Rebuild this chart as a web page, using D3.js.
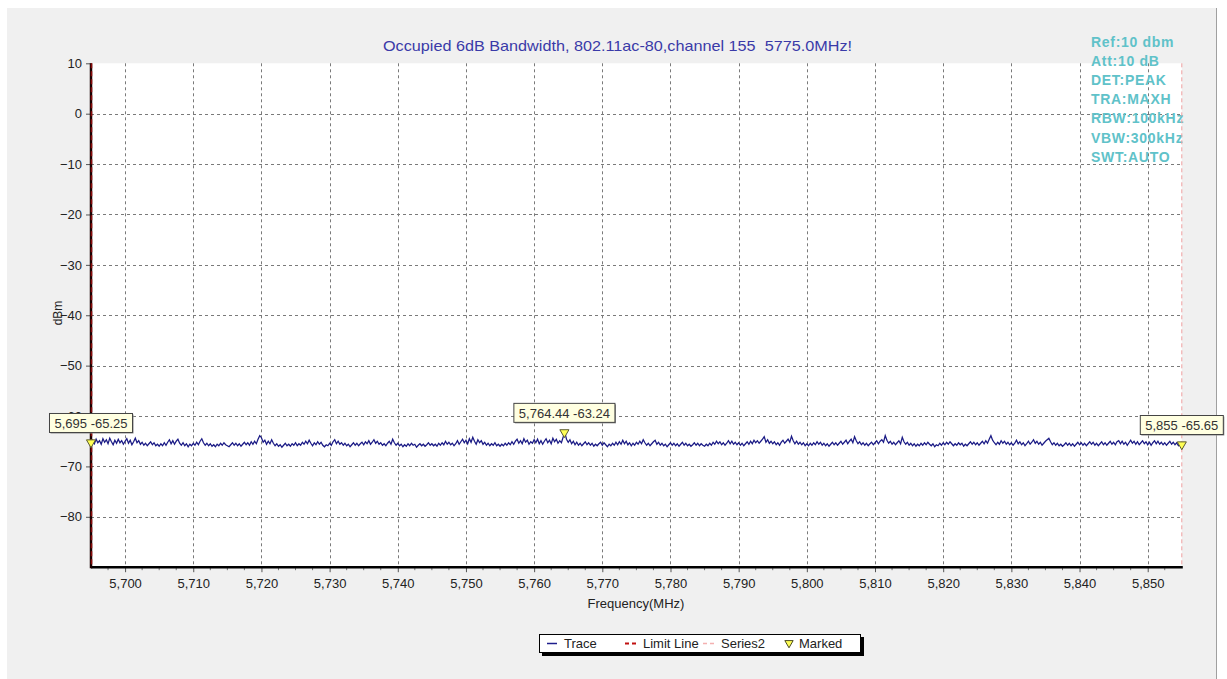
<!DOCTYPE html>
<html><head><meta charset="utf-8">
<script src="https://cdn.jsdelivr.net/npm/d3@7"></script>
<style>
body{margin:0;background:#fff;}
svg{display:block;font-family:"Liberation Sans",Arial,sans-serif;}
</style>
</head><body>
<svg id="c" width="1227" height="679"></svg>
<script>
// ---- data ----
const titleText = "Occupied 6dB Bandwidth, 802.11ac-80,channel 155  5775.0MHz!";
const freqStart = 5695, freqEnd = 5855;
const traceValues = [
-65.25,-64.8,-65.5,-64.6,-65.3,-64.9,-65.6,-64.5,-65.2,-64.7,-65.5,-64.4,-65.1,-65.7,-64.8,-65.4,-64.6,-65.3,-64.9,-65.6,
-65.0,-64.5,-65.4,-64.8,-65.7,-65.1,-64.4,-65.3,-64.9,-65.6,-65.2,-65.8,-65.4,-65.9,-65.5,-65.1,-65.7,-65.3,-65.9,-65.6,
-66.0,-65.5,-65.9,-65.3,-65.8,-65.2,-64.7,-65.5,-64.9,-65.6,-65.0,-64.6,-65.4,-65.8,-65.3,-65.9,-65.5,-66.1,-65.6,-65.9,
-65.4,-65.8,-65.2,-65.7,-65.0,-64.5,-65.3,-65.8,-65.4,-65.9,-65.5,-66.0,-65.7,-66.1,-65.6,-65.9,-65.4,-65.8,-65.3,-65.7,
-65.9,-66.1,-65.7,-65.3,-65.8,-65.4,-65.9,-65.5,-66.0,-65.6,-65.2,-65.7,-65.3,-65.8,-65.1,-65.6,-65.0,-65.5,-64.6,-63.9,
-64.3,-65.2,-64.8,-65.6,-65.0,-65.5,-64.7,-65.4,-65.9,-65.5,-66.0,-65.7,-66.2,-65.8,-65.4,-65.9,-65.6,-66.0,-65.5,-65.8,
-65.3,-65.9,-65.5,-65.8,-65.2,-65.6,-65.0,-65.5,-64.8,-65.4,-65.9,-65.3,-65.7,-65.1,-65.6,-65.2,-65.8,-66.1,-65.7,-65.9,
-65.4,-65.8,-65.1,-64.7,-65.5,-65.0,-65.6,-65.3,-65.8,-65.4,-65.9,-65.6,-66.1,-65.7,-65.3,-65.8,-65.4,-65.9,-65.5,-65.2,
-65.7,-65.1,-65.5,-64.9,-65.6,-65.2,-64.7,-65.4,-65.0,-65.6,-65.3,-65.8,-65.5,-65.9,-65.4,-65.0,-65.6,-64.6,-65.3,-65.8,
-65.4,-65.9,-65.6,-66.1,-65.7,-66.0,-65.5,-65.9,-65.4,-65.8,-65.6,-66.2,-65.8,-65.5,-65.9,-65.6,-66.0,-65.7,-65.3,-65.8,
-65.5,-65.9,-65.6,-66.0,-65.4,-65.8,-65.3,-65.7,-65.0,-65.6,-65.2,-65.7,-65.4,-65.9,-65.5,-64.9,-65.6,-65.1,-64.6,-65.3,
-64.8,-65.5,-64.5,-65.2,-64.2,-65.0,-65.6,-64.7,-65.3,-64.9,-65.6,-65.2,-65.8,-65.4,-65.9,-65.5,-65.8,-65.3,-65.9,-65.6,
-66.0,-65.6,-65.9,-65.4,-65.8,-65.3,-65.7,-65.1,-65.6,-65.0,-64.6,-65.4,-64.9,-65.5,-64.5,-65.2,-64.8,-65.6,-65.1,-65.4,
-64.7,-65.3,-64.6,-65.5,-64.9,-65.6,-65.0,-64.5,-65.3,-64.8,-65.5,-64.4,-65.1,-64.6,-65.4,-64.9,-65.3,-64.2,-63.3,-64.6,
-65.2,-64.7,-65.5,-65.0,-65.7,-65.2,-65.8,-65.4,-65.9,-65.5,-65.1,-65.7,-65.3,-65.8,-65.4,-66.0,-65.6,-65.9,-65.5,-65.2,
-65.8,-65.3,-65.7,-66.1,-65.6,-65.9,-65.4,-65.8,-65.2,-65.7,-65.1,-65.6,-64.8,-65.5,-65.0,-65.7,-65.3,-65.9,-65.4,-65.8,
-65.2,-65.6,-65.0,-65.5,-64.7,-65.3,-65.8,-65.4,-65.9,-65.5,-65.1,-64.8,-65.6,-65.2,-65.8,-65.4,-65.9,-65.6,-66.1,-65.7,
-65.3,-65.8,-65.4,-65.9,-65.5,-66.0,-65.6,-65.2,-65.8,-65.4,-65.9,-65.6,-66.0,-65.7,-65.3,-65.8,-65.4,-65.9,-65.5,-65.8,
-66.0,-65.6,-65.9,-65.4,-65.8,-65.2,-65.6,-65.0,-65.5,-65.1,-65.7,-65.3,-65.8,-65.4,-64.9,-65.5,-65.0,-65.6,-65.2,-65.7,
-65.3,-65.8,-65.4,-65.9,-65.5,-65.1,-65.6,-65.0,-65.5,-64.8,-65.3,-64.9,-65.4,-65.0,-64.6,-64.1,-65.2,-64.7,-65.4,-65.0,
-65.5,-65.1,-65.7,-65.3,-65.8,-65.2,-64.8,-65.4,-65.0,-64.6,-65.2,-64.0,-64.9,-65.5,-65.0,-65.6,-65.2,-65.7,-65.3,-65.9,
-65.5,-65.9,-65.4,-65.8,-65.3,-65.7,-65.1,-65.6,-65.2,-65.8,-65.4,-65.9,-65.5,-66.0,-65.6,-65.2,-65.7,-65.3,-65.8,-65.4,
-65.0,-65.6,-65.2,-64.8,-65.5,-65.0,-64.6,-65.3,-64.1,-64.9,-65.5,-65.1,-65.7,-65.3,-65.8,-65.4,-65.9,-65.5,-65.2,-65.7,
-65.3,-64.9,-65.5,-65.0,-64.7,-65.2,-63.9,-64.8,-65.4,-65.0,-65.6,-65.2,-65.7,-65.3,-64.9,-65.5,-64.2,-65.1,-65.6,-65.2,
-65.8,-65.4,-65.9,-65.5,-66.0,-65.6,-65.9,-65.4,-65.8,-65.3,-65.7,-65.2,-65.6,-65.9,-65.5,-66.1,-65.7,-65.9,-65.4,-65.8,
-65.3,-65.7,-65.2,-65.6,-65.1,-65.5,-65.9,-65.5,-65.8,-65.3,-65.7,-65.4,-66.0,-65.6,-65.9,-65.5,-65.1,-65.6,-65.2,-65.7,
-65.3,-65.8,-65.4,-65.0,-65.5,-64.9,-65.4,-64.6,-63.9,-64.8,-65.3,-65.7,-65.2,-65.6,-64.9,-65.4,-65.0,-65.6,-65.2,-65.7,
-65.3,-65.8,-65.4,-64.8,-65.5,-65.1,-65.7,-65.3,-65.9,-65.5,-65.0,-65.6,-65.2,-64.7,-65.4,-65.0,-65.6,-65.2,-65.8,-65.4,
-65.0,-64.7,-64.4,-65.1,-65.7,-65.3,-65.8,-65.4,-65.9,-65.6,-66.0,-65.7,-65.3,-65.8,-65.4,-65.9,-65.5,-66.0,-65.6,-65.2,
-65.7,-65.3,-65.8,-65.4,-65.9,-65.5,-65.1,-65.6,-65.2,-65.8,-65.4,-65.9,-65.5,-65.1,-65.7,-65.3,-65.8,-65.4,-65.0,-65.6,
-65.2,-65.7,-65.1,-64.9,-65.5,-65.0,-65.6,-65.2,-65.8,-65.3,-64.8,-65.4,-65.0,-65.6,-65.1,-65.7,-65.3,-64.9,-65.5,-65.1,
-65.7,-65.2,-65.8,-65.3,-64.9,-65.5,-65.0,-65.6,-65.2,-65.7,-65.3,-65.8,-65.4,-65.0,-65.6,-65.2,-65.7,-65.3,-65.9,-65.5,
-65.65
];
const xDomain = [5695, 5855];
const yDomain = [-90, 10];
const xTicks = [5700,5710,5720,5730,5740,5750,5760,5770,5780,5790,5800,5810,5820,5830,5840,5850];
const xMinorTicks = [5697.5,5702.5,5705,5707.5,5712.5,5715,5717.5,5722.5,5725,5727.5,5732.5,5735,5737.5,5742.5,5745,5747.5,5752.5,5755,5757.5,5762.5,5765,5767.5,5772.5,5775,5777.5,5782.5,5785,5787.5,5792.5,5795,5797.5,5802.5,5805,5807.5,5812.5,5815,5817.5,5822.5,5825,5827.5,5832.5,5835,5837.5,5842.5,5845,5847.5,5852.5];
const yTicks = [10,0,-10,-20,-30,-40,-50,-60,-70,-80];
const yGrid = [0,-10,-20,-30,-40,-50,-60,-70,-80];
const markerFreqs = [5695, 5764.44, 5855];
const markerValues = [-65.25, -63.24, -65.65];
const markerLabels = ["5,695 -65.25", "5,764.44 -63.24", "5,855 -65.65"];
const limitLineFreq = 5695;
const series2Freq = 5855;
const infoLines = ["Ref:10 dbm","Att:10 dB","DET:PEAK","TRA:MAXH","RBW:100kHz","VBW:300kHz","SWT:AUTO"];
const legendNames = ["Trace","Limit Line","Series2","Marked"];
const xTitle = "Frequency(MHz)";
const yTitle = "dBm";

// ---- drawing ----
const svg = d3.select("#c");
const L = 91, R = 1181.8, T = 63.3, B = 567.2;
const x = d3.scaleLinear().domain(xDomain).range([L, R]);
const y = d3.scaleLinear().domain(yDomain).range([B, T]);
const freqStep = (freqEnd - freqStart) / (traceValues.length - 1);

// panel
svg.append("rect").attr("x",7).attr("y",8).attr("width",1209).attr("height",671).attr("fill","#f0f0f0");
svg.append("line").attr("x1",1216.5).attr("x2",1216.5).attr("y1",8).attr("y2",679).attr("stroke","#a0a0a0");

// plot area
svg.append("rect").attr("x",L).attr("y",T).attr("width",R-L).attr("height",B-T).attr("fill","#fff");

// grid
const grid = svg.append("g").attr("stroke","#7a7a7a").attr("stroke-width",1).attr("stroke-dasharray","3,3");
grid.selectAll("line.v").data(xTicks).join("line")
  .attr("x1",d=>Math.round(x(d))+0.5).attr("x2",d=>Math.round(x(d))+0.5).attr("y1",T).attr("y2",B);
grid.selectAll("line.h").data(yGrid).join("line")
  .attr("y1",d=>Math.round(y(d))+0.5).attr("y2",d=>Math.round(y(d))+0.5).attr("x1",L).attr("x2",R);

// title
svg.append("text").attr("x",383).attr("y",50.5)
  .attr("font-size",15).attr("fill","#3a3aa8").style("white-space","pre")
  .attr("textLength",469).attr("lengthAdjust","spacingAndGlyphs").text(titleText);

// info lines
svg.append("g").selectAll("text").data(infoLines).join("text")
  .attr("x",1091).attr("y",(d,i)=>47+i*19.1)
  .attr("font-size",14).attr("font-weight","bold").attr("letter-spacing","0.7px")
  .attr("fill","#60c2c9").text(d=>d);

// x axis
const xAxis = d3.axisBottom(x).tickValues(xTicks).tickFormat(d3.format(",")).tickSize(5).tickPadding(7).tickSizeOuter(0);
const gx = svg.append("g").attr("transform",`translate(0,${B})`).call(xAxis);
gx.select(".domain").remove();
gx.selectAll("text").attr("font-size",13).attr("fill","#222").attr("font-family","Liberation Sans, Arial, sans-serif");
gx.selectAll(".tick line").attr("stroke","#555");
svg.append("g").selectAll("line").data(xMinorTicks).join("line")
  .attr("x1",d=>x(d)).attr("x2",d=>x(d)).attr("y1",B).attr("y2",B+3).attr("stroke","#777");

// y axis
const yAxis = d3.axisLeft(y).tickValues(yTicks).tickSize(5).tickPadding(4).tickSizeOuter(0);
const gy = svg.append("g").attr("transform",`translate(${L},0)`).call(yAxis);
gy.select(".domain").remove();
gy.selectAll("text").attr("font-size",13).attr("fill","#222").attr("font-family","Liberation Sans, Arial, sans-serif");
gy.selectAll(".tick line").attr("stroke","#555");

// axis titles
svg.append("text").attr("x",636).attr("y",608).attr("text-anchor","middle").attr("font-size",13).attr("fill","#222").text(xTitle);
svg.append("text").attr("transform","translate(62,313) rotate(-90)").attr("text-anchor","middle").attr("font-size",12).attr("fill","#222").text(yTitle);

// series2 (right dashed pink)
svg.append("line").attr("x1",x(series2Freq)).attr("x2",x(series2Freq)).attr("y1",T).attr("y2",B)
  .attr("stroke","#f0a0a0").attr("stroke-width",1).attr("stroke-dasharray","4,3");

// trace
const line = d3.line().x((d,i)=>x(freqStart+i*freqStep)).y(d=>y(d));
svg.append("path").datum(traceValues).attr("d",line).attr("fill","none")
  .attr("stroke","#1a1a85").attr("stroke-width",1.25);

// axis lines
svg.append("line").attr("x1",L).attr("x2",R+1).attr("y1",B).attr("y2",B).attr("stroke","#000").attr("stroke-width",2.5);
svg.append("line").attr("x1",L).attr("x2",L).attr("y1",T).attr("y2",B+1).attr("stroke","#1a0000").attr("stroke-width",2.5);
// limit line (dark red dashed)
svg.append("line").attr("x1",x(limitLineFreq)+0.5).attr("x2",x(limitLineFreq)+0.5).attr("y1",T).attr("y2",B)
  .attr("stroke","#8b0a0a").attr("stroke-width",1.5).attr("stroke-dasharray","5,3");

// markers
const tri = d3.symbol().type(d3.symbolTriangle).size(36);
const mk = svg.append("g");
markerFreqs.forEach((f,i)=>{
  const mx = x(f), my = y(markerValues[i]);
  mk.append("path").attr("d",tri()).attr("transform",`translate(${mx},${my}) rotate(180)`)
    .attr("fill","#ffff55").attr("stroke","#5a5a30").attr("stroke-width",1);
});
markerFreqs.forEach((f,i)=>{
  const mx = x(f), my = y(markerValues[i]);
  const g = mk.append("g");
  const t = g.append("text").attr("font-size",13).attr("fill","#333").text(markerLabels[i]);
  const w = t.node().getComputedTextLength();
  const bw = w + 10, bh = 19, bx = mx - bw/2, by = my - 10 - bh;
  g.insert("rect","text").attr("x",bx+1).attr("y",by+1).attr("width",bw).attr("height",bh).attr("fill","#888");
  g.insert("rect","text").attr("x",bx).attr("y",by).attr("width",bw).attr("height",bh)
    .attr("fill","#ffffe1").attr("stroke","#444").attr("stroke-width",1);
  t.attr("x",bx+5).attr("y",by+14.5);
});

// legend
const lg = svg.append("g");
lg.append("rect").attr("x",542).attr("y",637).attr("width",322).attr("height",19).attr("fill","#000");
lg.append("rect").attr("x",539.5).attr("y",634.5).attr("width",321).attr("height",18).attr("fill","#fff").attr("stroke","#000");
const legX = [547, 625, 703, 785];
const legTextX = [564, 643, 721, 799];
lg.append("line").attr("x1",legX[0]).attr("x2",legX[0]+10).attr("y1",643.5).attr("y2",643.5).attr("stroke","#1e1e8c").attr("stroke-width",1.5);
lg.append("line").attr("x1",legX[1]).attr("x2",legX[1]+13).attr("y1",643.5).attr("y2",643.5).attr("stroke","#c01010").attr("stroke-width",2).attr("stroke-dasharray","4,3");
lg.append("line").attr("x1",legX[2]).attr("x2",legX[2]+13).attr("y1",643.5).attr("y2",643.5).attr("stroke","#f4b0b0").attr("stroke-width",1.5).attr("stroke-dasharray","4,3");
lg.append("path").attr("d",d3.symbol().type(d3.symbolTriangle).size(30)()).attr("transform",`translate(${legX[3]+4},643) rotate(180)`)
  .attr("fill","#ffff55").attr("stroke","#4a4a20");
lg.selectAll("text").data(legendNames).join("text").attr("x",(d,i)=>legTextX[i]).attr("y",648)
  .attr("font-size",13).attr("fill","#222").text(d=>d);
</script>
</body></html>
